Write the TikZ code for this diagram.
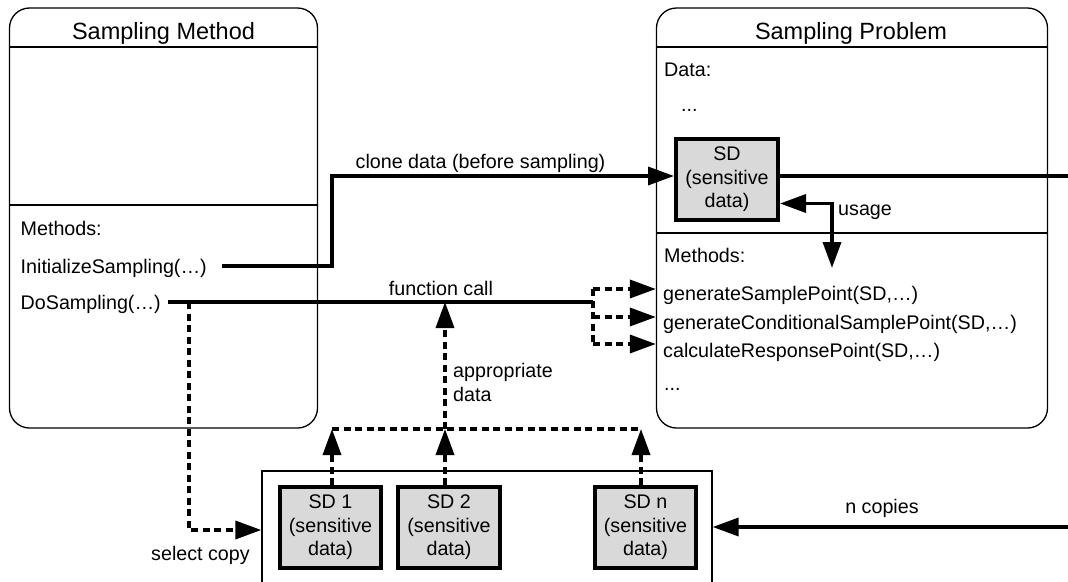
\documentclass[tikz,border=0pt]{standalone}
\usepackage{fontspec}
\setmainfont{Liberation Sans}
\usetikzlibrary{arrows.meta}
\definecolor{sdgray}{RGB}{217,217,217}
\begin{document}
\begin{tikzpicture}[x=1pt,y=-1pt,
  boxline/.style={draw, line width=1.3pt},
  txt/.style={inner sep=0pt, font=\fontsize{19.7}{23.5}\selectfont},
  ttl/.style={inner sep=0pt, font=\fontsize{23.5}{28}\selectfont},
  sdbox/.style={draw, line width=4pt, fill=sdgray, minimum width=101.5pt, minimum height=81pt, inner sep=0pt, align=center, font=\fontsize{19.7}{23.5}\selectfont},
  solidline/.style={line width=3.5pt},
  solidarrow/.style={solidline, -{Triangle[length=26pt,width=18pt]}},
  dashline/.style={line width=3.5pt, dash pattern=on 7pt off 4.5pt},
  dasharrow/.style={dashline, -{Triangle[length=26pt,width=18pt]}}
]
\useasboundingbox (0,0) rectangle (1068,581);

% ---------- Sampling Method box ----------
\node[boxline, rounded corners=20pt, minimum width=308pt, minimum height=420pt, inner sep=0pt] (boxL) at (163.5,218) {};
\draw[boxline] (9.5,47) -- (317.5,47);
\draw[boxline] (9.5,205) -- (317.5,205);
\node[ttl, anchor=base] (titleL) at (163.5,39) {Sampling Method};
\node[txt, anchor=base west] (methL) at (20.5,235) {Methods:};
\node[txt, anchor=base west] (init) at (20.5,273) {InitializeSampling(…)};
\node[txt, anchor=base west] (doS) at (20.5,309) {DoSampling(…)};

% ---------- Sampling Problem box ----------
\node[boxline, rounded corners=20pt, minimum width=391pt, minimum height=420pt, inner sep=0pt] (boxR) at (852,218) {};
\draw[boxline] (656.5,47) -- (1047.5,47);
\draw[boxline] (656.5,233) -- (1047.5,233);
\node[ttl, anchor=base] (titleR) at (851,39) {Sampling Problem};
\node[txt, anchor=base west] (data) at (664,76) {Data:};
\node[txt, anchor=base west] (dots1) at (681,111) {...};
\node[sdbox, minimum width=102pt] (SD) at (727,179.5) {SD\\(sensitive\\data)};
\node[txt, anchor=base west] (methR) at (664,262) {Methods:};
\node[txt, anchor=base west] (gen1) at (663,300) {generateSamplePoint(SD,…)};
\node[txt, anchor=base west] (gen2) at (663,329) {generateConditionalSamplePoint(SD,…)};
\node[txt, anchor=base west] (calc) at (663,357) {calculateResponsePoint(SD,…)};
\node[txt, anchor=base west] (dots2) at (664,390) {...};

% ---------- copies container ----------
\node[boxline, minimum width=450pt, minimum height=140pt, inner sep=0pt] (cont) at (487,541) {};
\node[sdbox] (SD1) at (330.5,527.5) {SD 1\\(sensitive\\data)};
\node[sdbox, minimum width=102.5pt] (SD2) at (449,527.5) {SD 2\\(sensitive\\data)};
\node[sdbox] (SDn) at (645.5,527.5) {SD n\\(sensitive\\data)};

% ---------- coordinates ----------
\coordinate (i0) at (222,266);
\coordinate (cc) at (332,176);
\coordinate (rEnd) at (1075,176);
\coordinate (uB) at (832,268);
\coordinate (uC) at (832,203.5);
\coordinate (fc0) at (168,302);
\coordinate (fcJ) at (593,302);
\coordinate (j1) at (593,289);
\coordinate (j2) at (593,317);
\coordinate (j3) at (593,344);
\coordinate (sel) at (189,302);
\coordinate (selC) at (189,530);
\coordinate (b1) at (332,429);
\coordinate (b2) at (445,429);
\coordinate (bn) at (641,429);
\coordinate (nE) at (1075,527);

% ---------- connectors ----------
\draw[solidarrow] (i0) -| (cc) -- (SD.west |- cc);
\node[txt, anchor=base] (lclone) at (480.5,168) {clone data (before sampling)};
\draw[solidline] (SD.east |- cc) -- (rEnd);
\draw[solidline, {Triangle[length=26pt,width=18pt]}-{Triangle[length=26pt,width=18pt]}] (uB) -- (uC) -- (SD.east |- uC);
\node[txt, anchor=base west] (lusage) at (838,215) {usage};

\draw[solidline] (fc0) -- (fcJ);
\node[txt, anchor=base] (lfc) at (441,295) {function call};
\draw[dashline] (j1) -- (j3);
\draw[dasharrow] (j1) -- (boxR.west |- j1);
\draw[dasharrow] (j2) -- (boxR.west |- j2);
\draw[dasharrow] (j3) -- (boxR.west |- j3);

\draw[dasharrow] (sel) -- (selC) -- (cont.west |- selC);
\node[txt, anchor=base west] (lsel) at (151,560) {select copy};

\draw[dashline] (b1) -- (bn);
\draw[dasharrow] (SD1.north -| b1) -- (b1);
\draw[dasharrow] (SD2.north -| b2) -- (b2);
\draw[dasharrow] (SDn.north -| bn) -- (bn);
\draw[dasharrow] (b2) -- (b2 |- fcJ);
\node[txt, anchor=base west] (lapp1) at (453,377) {appropriate};
\node[txt, anchor=base west] (lapp2) at (453,401) {data};

\draw[solidarrow] (nE) -- (cont.east |- nE);
\node[txt, anchor=base] (lncop) at (882,513) {n copies};
\end{tikzpicture}
\end{document}
